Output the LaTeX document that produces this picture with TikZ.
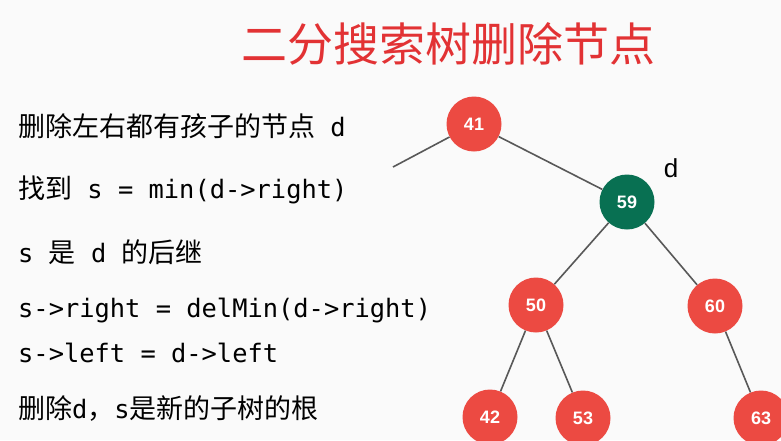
\documentclass[tikz,border=0pt]{standalone}
\usepackage{fontspec}
\usepackage{xcolor}
\usepackage{tikz}
\setmainfont{Liberation Sans}
\newfontfamily\cjkfont{Noto Sans CJK SC}
\newfontfamily\codefont{DejaVu Sans Mono}
\definecolor{keyred}{RGB}{236, 74, 66}
\definecolor{delgreen}{RGB}{8, 112, 82}
\definecolor{titlered}{RGB}{226, 50, 52}
\definecolor{linkgray}{RGB}{88, 88, 88}
\definecolor{slidebg}{RGB}{250, 250, 250}
\newcommand{\zh}[1]{{\cjkfont\fontsize{27}{30}\selectfont #1}}
\tikzset{
    treenode/.style={circle, fill=keyred, minimum size=55pt, inner sep=0pt, text=white, font=\fontsize{18}{18}\selectfont\bfseries},
    delnode/.style={treenode, fill=delgreen},
    link/.style={draw=linkgray, line width=1.6pt},
    codeline/.style={anchor=base west, inner sep=0pt, font=\codefont\fontsize{25.4}{28}\selectfont},
    slidetitle/.style={anchor=base, inner sep=0pt, text=titlered, font=\cjkfont\fontsize{46}{50}\selectfont}
}

\begin{document}
\begin{tikzpicture}[x=1pt, y=-1pt]

        \clip (0,0) rectangle (781,440);
        \fill [slidebg] (0,0) rectangle (781,440);

        \node [slidetitle] (title) at (448,61) {二分搜索树删除节点};

        % Steps
        \node [codeline] (step1) at (18,136) {\zh{删除左右都有孩子的节点} d};
        \node [codeline] (step2) at (18,198) {\zh{找到} s = min(d->right)};
        \node [codeline] (step3) at (18,262) {s \zh{是} d \zh{的后继}};
        \node [codeline] (step4) at (18,317) {s->right = delMin(d->right)};
        \node [codeline] (step5) at (18,362) {s->left = d->left};
        \node [codeline] (step6) at (18,418) {\zh{删除}d\zh{，}s\zh{是新的子树的根}};

        % Tree
        \node [treenode] (n41) at (474,124) {41};
        \node [delnode] (n59) at (627,202) {59};
        \node [font=\fontsize{26}{26}\selectfont] (dlabel) at (671,168) {d};
        \node [treenode] (n50) at (536,305) {50};
        \node [treenode] (n60) at (715,306) {60};
        \node [treenode] (n42) at (490,417) {42};
        \node [treenode] (n53) at (583,418) {53};
        \node [treenode] (n63) at (761,418) {63};
        \coordinate (leftsub) at (393,167);

        % Links
        \draw [link] (n41) -- (leftsub);
        \draw [link] (n41) -- (n59);
        \draw [link] (n59) -- (n50);
        \draw [link] (n59) -- (n60);
        \draw [link] (n50) -- (n42);
        \draw [link] (n50) -- (n53);
        \draw [link] (n60) -- (n63);

    \end{tikzpicture}
\end{document}
